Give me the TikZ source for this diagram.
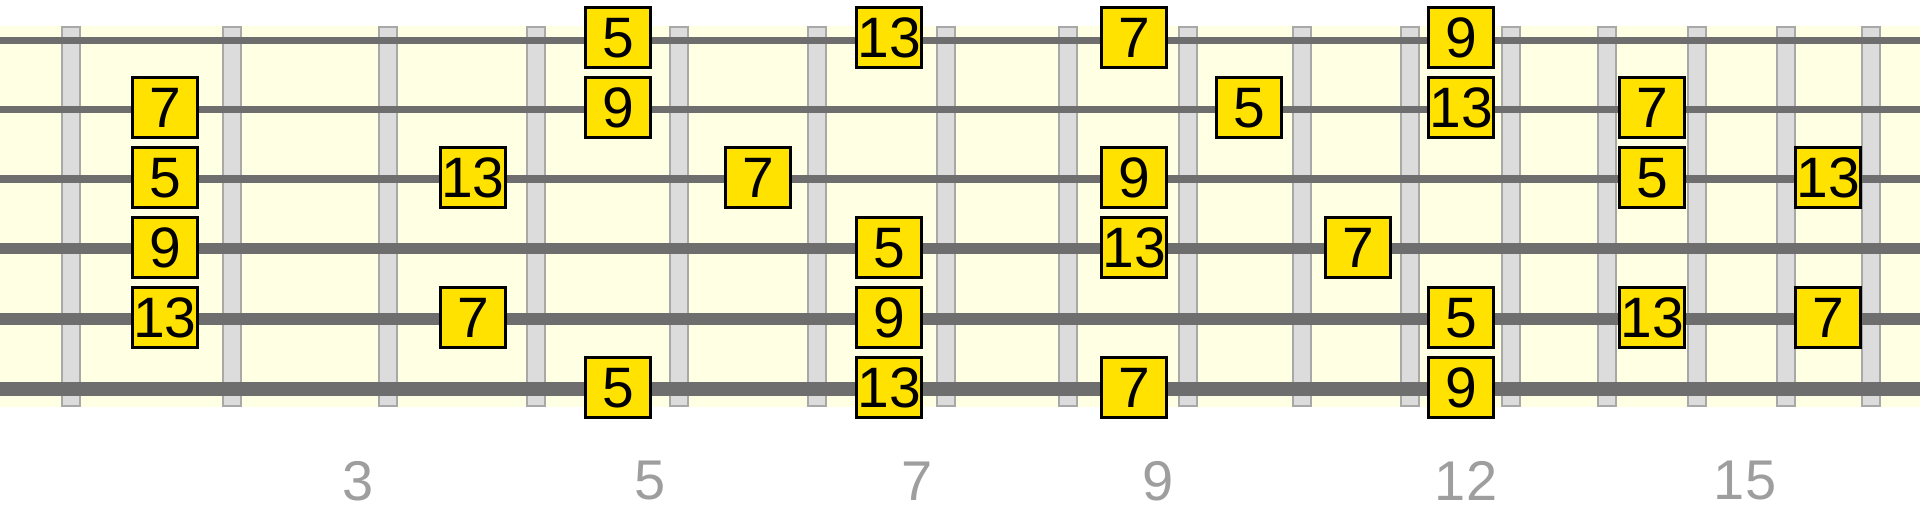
\documentclass[tikz,border=0pt]{standalone}
\usepackage{fontspec}
\setmainfont{Liberation Sans}
\definecolor{boardbg}{RGB}{255,255,228}
\definecolor{fretfill}{RGB}{220,220,220}
\definecolor{fretline}{RGB}{168,168,168}
\definecolor{stringcol}{RGB}{110,110,110}
\definecolor{notefill}{RGB}{255,226,0}
\definecolor{labelcol}{RGB}{158,158,158}
\tikzset{
  fretbar/.style={fill=fretfill, draw=fretline, line width=2pt},
  guitarstring/.style={draw=stringcol, line cap=butt},
  notebox/.style={draw=black, line width=3pt, fill=notefill, rectangle,
    minimum width=64.3pt, minimum height=60.3pt, inner sep=0pt,
    font=\fontsize{57}{68}\selectfont, text=black},
  fretlabel/.style={inner sep=0pt, text=labelcol, font=\fontsize{56}{66}\selectfont}
}
\begin{document}
\begin{tikzpicture}[x=1pt,y=-1pt]
\useasboundingbox (0,0) rectangle (1920,511);
% board
\fill[boardbg] (0,25.7) rectangle (1920,407.3);
% frets
\foreach \fx in {71,232,388,536,679,817,946,1068,1188,1302,1410,1511,1607,1697,1786,1871}{
  \draw[fretbar] (\fx-9,26.7) rectangle (\fx+9,406.3);
}
% strings
\draw[guitarstring, line width=6.7pt] (0,40.7) -- (1920,40.7);
\draw[guitarstring, line width=7.3pt] (0,109.7) -- (1920,109.7);
\draw[guitarstring, line width=7.3pt] (0,179) -- (1920,179);
\draw[guitarstring, line width=10.5pt] (0,248.7) -- (1920,248.7);
\draw[guitarstring, line width=12.5pt] (0,319) -- (1920,319);
\draw[guitarstring, line width=14pt] (0,389) -- (1920,389);
% notes, string 1
\node[notebox] (s1a) at (618,37.7) {5};
\node[notebox] (s1b) at (889,37.7) {13};
\node[notebox] (s1c) at (1134,37.7) {7};
\node[notebox] (s1d) at (1461,37.7) {9};
% string 2
\node[notebox] (s2a) at (165,107.7) {7};
\node[notebox] (s2b) at (618,107.7) {9};
\node[notebox] (s2c) at (1249,107.7) {5};
\node[notebox] (s2d) at (1461,107.7) {13};
\node[notebox] (s2e) at (1652,107.7) {7};
% string 3
\node[notebox] (s3a) at (165,177.7) {5};
\node[notebox] (s3b) at (473,177.7) {13};
\node[notebox] (s3c) at (758,177.7) {7};
\node[notebox] (s3d) at (1134,177.7) {9};
\node[notebox] (s3e) at (1652,177.7) {5};
\node[notebox] (s3f) at (1828,177.7) {13};
% string 4
\node[notebox] (s4a) at (165,247.7) {9};
\node[notebox] (s4b) at (889,247.7) {5};
\node[notebox] (s4c) at (1134,247.7) {13};
\node[notebox] (s4d) at (1358,247.7) {7};
% string 5
\node[notebox] (s5a) at (165,317.7) {13};
\node[notebox] (s5b) at (473,317.7) {7};
\node[notebox] (s5c) at (889,317.7) {9};
\node[notebox] (s5d) at (1461,317.7) {5};
\node[notebox] (s5e) at (1652,317.7) {13};
\node[notebox] (s5f) at (1828,317.7) {7};
% string 6
\node[notebox] (s6a) at (618,387.7) {5};
\node[notebox] (s6b) at (889,387.7) {13};
\node[notebox] (s6c) at (1134,387.7) {7};
\node[notebox] (s6d) at (1461,387.7) {9};
% fret numbers
\node[fretlabel] (f3) at (358,481) {3};
\node[fretlabel] (f5) at (650,481) {5};
\node[fretlabel] (f7) at (917,481) {7};
\node[fretlabel] (f9) at (1158,481) {9};
\node[fretlabel] (f12) at (1466,481) {12};
\node[fretlabel] (f15) at (1745,481) {15};
\end{tikzpicture}
\end{document}
